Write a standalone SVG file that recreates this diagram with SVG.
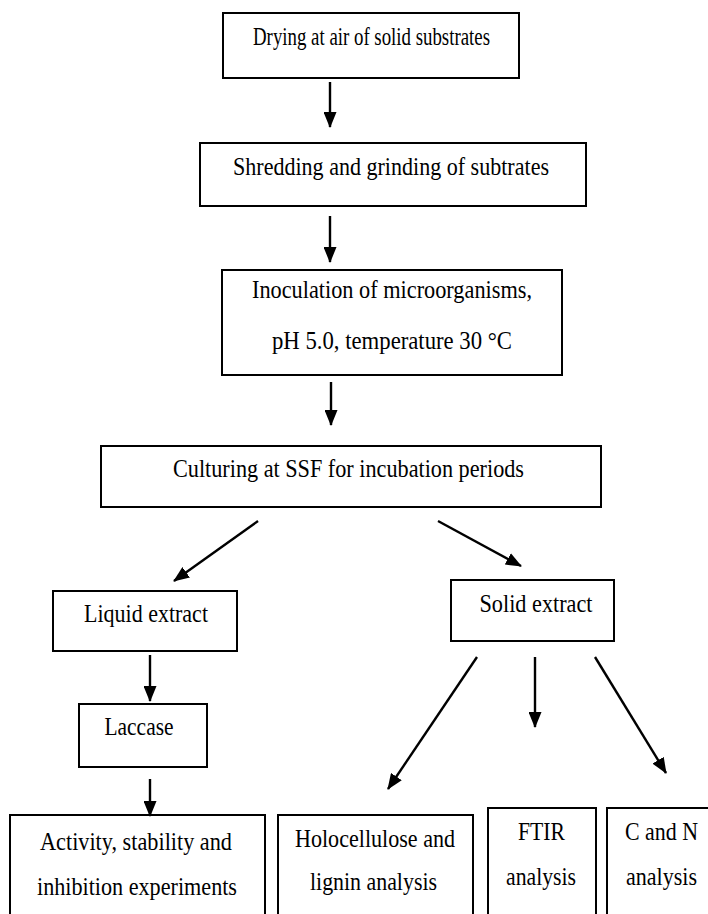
<svg xmlns="http://www.w3.org/2000/svg" width="708" height="914" viewBox="0 0 708 914">
<defs>
<marker id="ah" markerWidth="16" markerHeight="13" refX="15" refY="6.5" orient="auto" markerUnits="userSpaceOnUse" viewBox="0 0 16 13">
<path d="M0,0 L16,6.5 L0,13 Z" fill="#000"/>
</marker>
<style>
.box{fill:#fff;stroke:#000;stroke-width:2}
.t{font-family:'Liberation Serif','Times New Roman',serif;font-size:25px;fill:#000;text-anchor:middle}
.c{stroke:#000;stroke-width:2.4;fill:none;marker-end:url(#ah)}
</style>
</defs>
<rect width="708" height="914" fill="#fff"/>
<g id="n1"><rect class="box" x="223" y="13" width="296" height="65"/><text class="t" x="371.5" y="45" textLength="237" lengthAdjust="spacingAndGlyphs">Drying at air of solid substrates</text></g>
<g id="n2"><rect class="box" x="200" y="143" width="386" height="63"/><text class="t" x="391" y="175" textLength="316" lengthAdjust="spacingAndGlyphs">Shredding and grinding of subtrates</text></g>
<g id="n3"><rect class="box" x="222" y="270" width="340" height="105"/><text class="t" x="392" y="298" textLength="280" lengthAdjust="spacingAndGlyphs">Inoculation of microorganisms,</text><text class="t" x="392" y="349" textLength="240" lengthAdjust="spacingAndGlyphs">pH 5.0, temperature 30 °C</text></g>
<g id="n4"><rect class="box" x="101" y="446" width="500" height="61"/><text class="t" x="348.5" y="477" textLength="351" lengthAdjust="spacingAndGlyphs">Culturing at SSF for incubation periods</text></g>
<g id="n5"><rect class="box" x="53" y="591" width="184" height="60"/><text class="t" x="146" y="622" textLength="124" lengthAdjust="spacingAndGlyphs">Liquid extract</text></g>
<g id="n6"><rect class="box" x="451" y="580" width="163" height="61"/><text class="t" x="536" y="612" textLength="113" lengthAdjust="spacingAndGlyphs">Solid extract</text></g>
<g id="n7"><rect class="box" x="79" y="704" width="128" height="63"/><text class="t" x="139" y="735" textLength="69" lengthAdjust="spacingAndGlyphs">Laccase</text></g>
<g id="n8"><rect class="box" x="10" y="815" width="255" height="110"/><text class="t" x="136" y="850" textLength="192" lengthAdjust="spacingAndGlyphs">Activity, stability and</text><text class="t" x="137" y="895" textLength="200" lengthAdjust="spacingAndGlyphs">inhibition experiments</text></g>
<g id="n9"><rect class="box" x="278" y="815" width="195" height="110"/><text class="t" x="375" y="847" textLength="160" lengthAdjust="spacingAndGlyphs">Holocellulose and</text><text class="t" x="373.5" y="890" textLength="127" lengthAdjust="spacingAndGlyphs">lignin analysis</text></g>
<g id="n10"><rect class="box" x="488" y="808" width="108" height="117"/><text class="t" x="541.5" y="840" textLength="47" lengthAdjust="spacingAndGlyphs">FTIR</text><text class="t" x="541" y="885" textLength="70" lengthAdjust="spacingAndGlyphs">analysis</text></g>
<g id="n11"><rect class="box" x="607" y="808" width="110" height="117"/><text class="t" x="661.5" y="840" textLength="73" lengthAdjust="spacingAndGlyphs">C and N</text><text class="t" x="661.5" y="885" textLength="71" lengthAdjust="spacingAndGlyphs">analysis</text></g>
<g id="connectors">
<line class="c" x1="330" y1="82" x2="330" y2="127"/>
<line class="c" x1="330" y1="216" x2="330" y2="262"/>
<line class="c" x1="331" y1="382" x2="331" y2="425"/>
<line class="c" x1="258" y1="521" x2="174" y2="581"/>
<line class="c" x1="438" y1="521" x2="521" y2="566"/>
<line class="c" x1="150" y1="655" x2="150" y2="701"/>
<line class="c" x1="150" y1="779" x2="150" y2="816"/>
<line class="c" x1="477" y1="657" x2="388" y2="789"/>
<line class="c" x1="535" y1="657" x2="535" y2="727"/>
<line class="c" x1="595" y1="657" x2="666" y2="773"/>
</g>
</svg>
